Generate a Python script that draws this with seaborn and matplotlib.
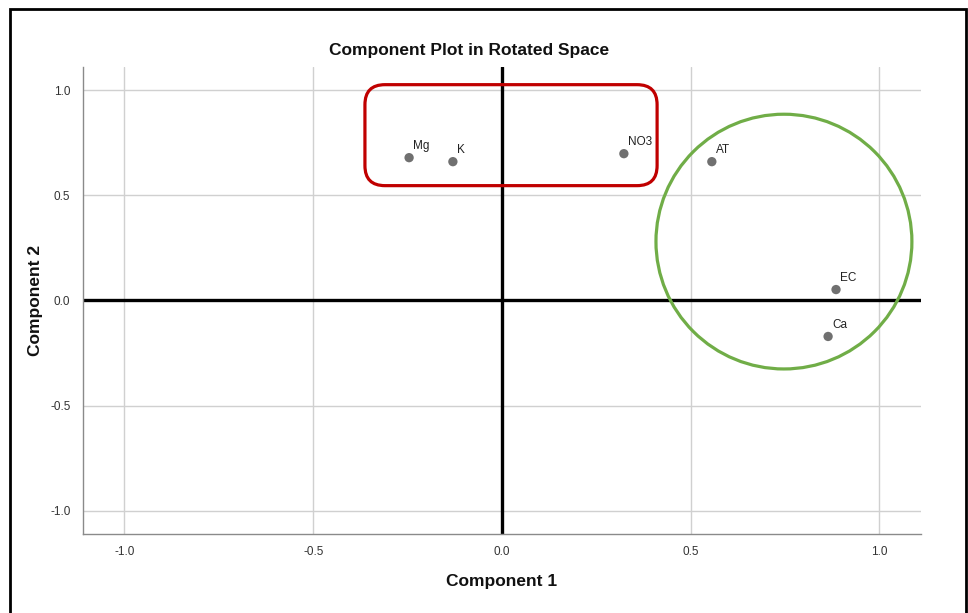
import matplotlib
matplotlib.use("Agg")
import matplotlib.pyplot as plt
from matplotlib.patches import FancyBboxPatch, Ellipse, Rectangle
import seaborn as sns
import pandas as pd

# Rotated component loadings
variables = ["Mg", "K", "NO3", "AT", "EC", "Ca"]
component1 = [-0.246, -0.130, 0.323, 0.556, 0.885, 0.864]
component2 = [0.679, 0.660, 0.698, 0.660, 0.052, -0.171]
tick_values = [-1.0, -0.5, 0.0, 0.5, 1.0]
tick_labels = ["-1.0", "-0.5", "0.0", "0.5", "1.0"]

df = pd.DataFrame({"Variable": variables,
                   "Component 1": component1,
                   "Component 2": component2})

sns.set_style("white")
plt.rcParams["font.family"] = ["Liberation Sans", "DejaVu Sans"]

fig = plt.figure(figsize=(9.68, 6.13), dpi=100)
ax = fig.add_axes([0.0857, 0.1289, 0.8657, 0.7618])

# grid and reference axes through the origin
for v in tick_values:
    ax.axvline(v, color="#d0d0d0", lw=1.0, zorder=0)
    ax.axhline(v, color="#d0d0d0", lw=1.0, zorder=0)
ax.axvline(0, color="black", lw=2.4, zorder=1)
ax.axhline(0, color="black", lw=2.4, zorder=1)

sns.scatterplot(data=df, x="Component 1", y="Component 2", ax=ax,
                color="#707070", s=45, edgecolor="none", zorder=3)

for name, x, y in zip(variables, component1, component2):
    ax.annotate(name, (x, y), xytext=(3, 4), textcoords="offset points",
                ha="left", va="bottom", fontsize=8.5, color="#222222")

ax.set_xlim(-1.11, 1.11)
ax.set_ylim(-1.11, 1.11)
ax.set_xticks(tick_values)
ax.set_xticklabels(tick_labels)
ax.set_yticks(tick_values)
ax.set_yticklabels(tick_labels)
ax.tick_params(axis="both", length=0, labelsize=8.5, colors="#333333", pad=9)

for side in ("top", "right"):
    ax.spines[side].set_visible(False)
for side in ("left", "bottom"):
    ax.spines[side].set_color("#8a8a8a")
    ax.spines[side].set_linewidth(1.0)

ax.set_xlabel("")
ax.set_ylabel("")
fig.text(0.5186, 0.052, "Component 1", ha="center", va="center",
         fontsize=12.5, fontweight="bold", color="#111111")
fig.text(0.037, 0.51, "Component 2", ha="center", va="center",
         rotation=90, fontsize=12.5, fontweight="bold", color="#111111")
fig.text(0.4845, 0.917, "Component Plot in Rotated Space", ha="center",
         va="center", fontsize=12.5, fontweight="bold", color="#111111")

# highlighted groups
box = FancyBboxPatch((-0.363, 0.546), 0.774, 0.480,
                     boxstyle="round,pad=0,rounding_size=0.053",
                     mutation_aspect=1.793, fill=False,
                     edgecolor="#c00000", lw=2.3, zorder=4, clip_on=False)
ax.add_patch(box)
circle = Ellipse((0.747, 0.280), 0.678, 1.211, fill=False,
                 edgecolor="#70ad47", lw=2.3, zorder=4, clip_on=False)
ax.add_patch(circle)

# outer frame
fig.patches.append(Rectangle((10 / 968, -0.05), 956 / 968, 1 - 9 / 613 + 0.05,
                             transform=fig.transFigure, fill=False,
                             edgecolor="black", lw=2.0))

fig.savefig("out.png", dpi=100)
